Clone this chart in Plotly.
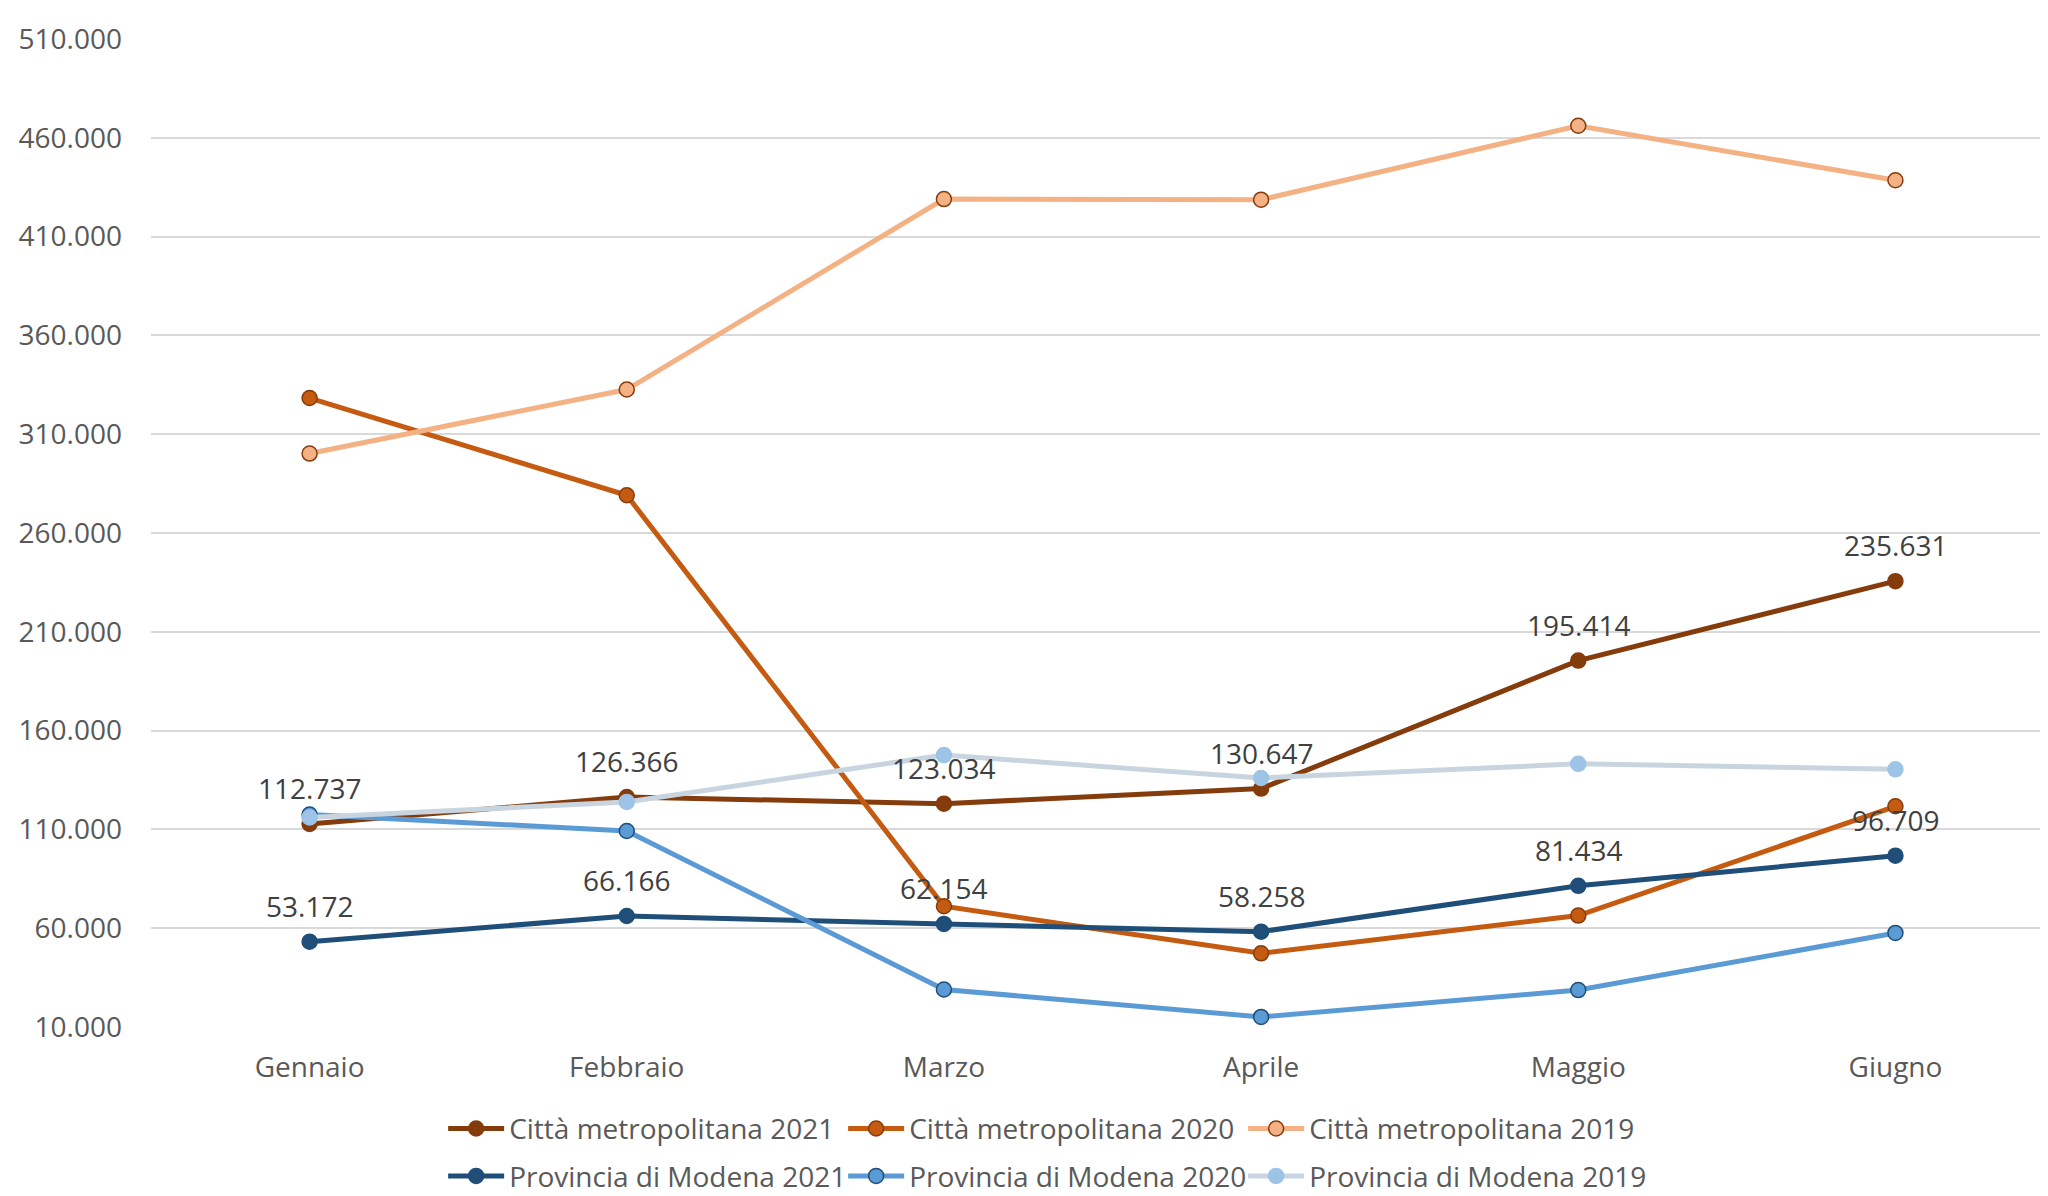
import plotly.graph_objects as go

months = ["Gennaio", "Febbraio", "Marzo", "Aprile", "Maggio", "Giugno"]

citta_2021 = [112737, 126366, 123034, 130647, 195414, 235631]
citta_2020 = [328300, 279100, 71100, 47300, 66400, 121700]
citta_2019 = [300200, 332600, 429000, 428700, 466100, 438500]
prov_2021 = [53172, 66166, 62154, 58258, 81434, 96709]
prov_2020 = [117500, 109200, 29000, 15100, 28700, 57600]
prov_2019 = [116000, 123900, 147600, 136000, 143200, 140400]

y_ticks = [10000, 60000, 110000, 160000, 210000, 260000, 310000, 360000, 410000, 460000, 510000]

FONT = "Open Sans"

series = [
    ("Città metropolitana 2021", citta_2021, "#843C0C", "#843C0C", "#843C0C", "legend"),
    ("Città metropolitana 2020", citta_2020, "#C55A11", "#C55A11", "#843C0C", "legend"),
    ("Città metropolitana 2019", citta_2019, "#F4B183", "#F4B183", "#843C0C", "legend"),
    ("Provincia di Modena 2021", prov_2021, "#1F4E79", "#1F4E79", "#1F4E79", "legend2"),
    ("Provincia di Modena 2020", prov_2020, "#5B9BD5", "#5B9BD5", "#1F4E79", "legend2"),
    ("Provincia di Modena 2019", prov_2019, "#C8D5E1", "#9DC3E6", "#9DC3E6", "legend2"),
]

fig = go.Figure()
for i, (name, vals, lc, mc, oc, lg) in enumerate(series):
    fig.add_trace(go.Scatter(
        x=months, y=vals, name=name, mode="lines+markers",
        line=dict(color=lc, width=5),
        marker=dict(size=15, color=mc, line=dict(color=oc, width=1.5)),
        legend=lg,
        legendwidth=(400 if i in (2, 5) else None),
    ))

# data labels for 2021 series
for vals in (citta_2021, prov_2021):
    for m, v in zip(months, vals):
        fig.add_annotation(
            x=m, y=v, text=f"{v:,}".replace(",", "."), showarrow=False,
            yshift=36, font=dict(family=FONT, size=28, color="#404040"),
        )

fig.update_layout(
    width=2040, height=1188,
    margin=dict(l=143, r=0, t=31, b=169, autoexpand=False),
    paper_bgcolor="white", plot_bgcolor="white",
    separators=",.",
    font=dict(family=FONT, size=28, color="#595959"),
    showlegend=True,
    legend=dict(orientation="h", x=0.154, xanchor="left", y=-0.103, yanchor="middle",
                entrywidth=329, itemwidth=56, font=dict(family=FONT, size=28, color="#595959"),
                traceorder="normal", bgcolor="rgba(0,0,0,0)"),
    legend2=dict(orientation="h", x=0.154, xanchor="left", y=-0.151, yanchor="middle",
                 entrywidth=329, itemwidth=56, font=dict(family=FONT, size=28, color="#595959"),
                 traceorder="normal", bgcolor="rgba(0,0,0,0)"),
)

fig.update_xaxes(
    type="category", range=[-0.5, 5.481], showgrid=False, showline=False, zeroline=False,
    ticks="", ticklabelstandoff=21, tickfont=dict(family=FONT, size=28, color="#595959"),
)
fig.update_yaxes(
    range=[10000, 510000], tickvals=y_ticks, tickformat=",d",
    showgrid=True, gridcolor="#D9D9D9", gridwidth=1.5, zeroline=False, showline=False,
    ticks="", ticklabelstandoff=28, tickfont=dict(family=FONT, size=28, color="#595959"),
)

fig.write_html("out.html")
